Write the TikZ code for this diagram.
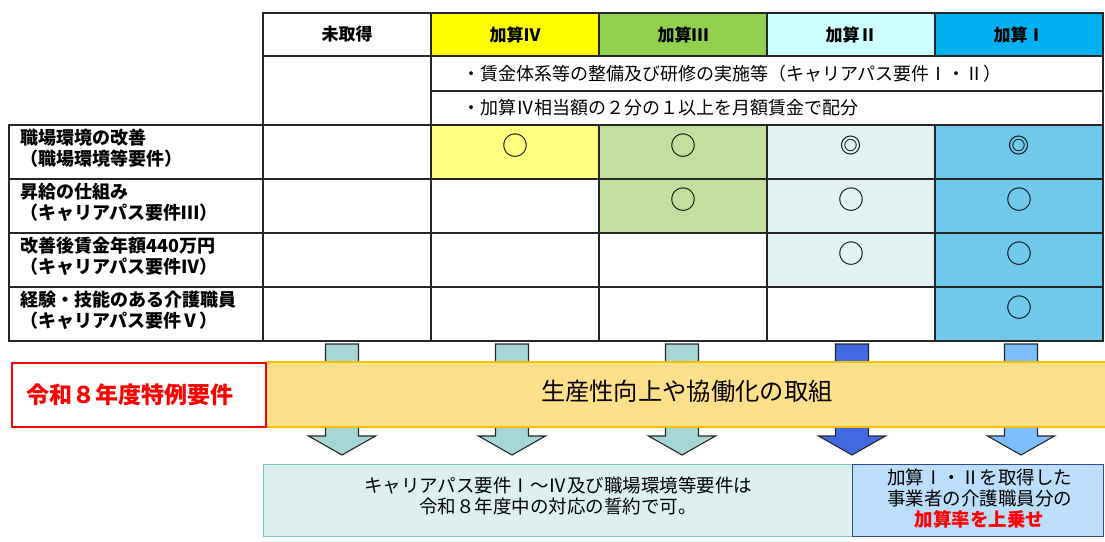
\documentclass[tikz,border=0pt]{standalone}
\usepackage{fontspec}
\setmainfont{Noto Sans CJK JP}
\usepackage{xcolor}
\usetikzlibrary{positioning}

\definecolor{hdrIV}{HTML}{FFFF00}
\definecolor{hdrIII}{HTML}{92D050}
\definecolor{hdrII}{HTML}{CCFFFF}
\definecolor{hdrI}{HTML}{00B0F0}
\definecolor{rowIV}{HTML}{FFFF80}
\definecolor{rowIII}{HTML}{C3DF9F}
\definecolor{rowII}{HTML}{E3F2F2}
\definecolor{rowI}{HTML}{70C8EB}
\definecolor{arrowTeal}{HTML}{A6D6D5}
\definecolor{arrowBlue}{HTML}{4169E1}
\definecolor{arrowSky}{HTML}{7DBEFF}
\definecolor{bandFill}{HTML}{FFE08A}
\definecolor{bandLine}{HTML}{FFC000}
\definecolor{noteFill}{HTML}{DDF0EF}
\definecolor{noteLine}{HTML}{7EC5BF}
\definecolor{plusFill}{HTML}{BDDEFA}
\definecolor{plusLine}{HTML}{2E4C8C}

\begin{document}
\begin{tikzpicture}[x=1pt, y=-1pt,
  cellbox/.style={draw=black!85, line width=1.2pt, inner sep=0pt, outer sep=0pt, minimum width=168pt, minimum height=54pt},
  hdrbox/.style={cellbox, minimum height=43pt, font=\bfseries\fontsize{17}{19}\selectfont},
  rowlabel/.style={anchor=west, align=left, inner sep=0pt, font=\bfseries\fontsize{18}{21}\selectfont},
  captext/.style={anchor=west, inner sep=0pt, font=\fontsize{18}{20}\selectfont},
  circmark/.style={inner sep=0pt, font=\fontsize{26}{26}\selectfont},
  dblmark/.style={inner sep=0pt, font=\bfseries\fontsize{21}{21}\selectfont},
  blockarrow/.style={draw=black!85, line width=1.1pt},
  bodytext/.style={align=center, inner sep=0pt, font=\fontsize{18.5}{21}\selectfont}]

\useasboundingbox (0,0) rectangle (1105,541);

% Header
\node[hdrbox] (hnone) at (347,34.5) {未取得};
\node[hdrbox, fill=hdrIV, right=0pt of hnone] (hIV) {加算Ⅳ};
\node[hdrbox, fill=hdrIII, right=0pt of hIV] (hIII) {加算Ⅲ};
\node[hdrbox, fill=hdrII, right=0pt of hIII] (hII) {加算Ⅱ};
\node[hdrbox, fill=hdrI, right=0pt of hII] (hI) {加算Ⅰ};

% Common requirements
\node[cellbox, minimum height=69pt, below=0pt of hnone] (capnone) {};
\node[cellbox, anchor=north west, minimum width=672pt, minimum height=35pt] (cap1) at (hIV.south west) {};
\node[cellbox, minimum width=672pt, minimum height=34pt, below=0pt of cap1] (cap2) {};
\node[captext] at ([xshift=31pt]cap1.west) {・賃金体系等の整備及び研修の実施等（キャリアパス要件Ⅰ・Ⅱ）};
\node[captext] at ([xshift=31pt]cap2.west) {・加算Ⅳ相当額の２分の１以上を月額賃金で配分};

% Rows
\foreach \r/\y/\fa/\fb/\fc/\fd/\fe in {1/152/white/rowIV/rowIII/rowII/rowI,
    2/206/white/white/rowIII/rowII/rowI,
    3/260/white/white/white/rowII/rowI,
    4/314/white/white/white/white/rowI} {
  \node[cellbox, minimum width=254pt] (lab\r) at (136,\y) {};
  \node[cellbox, fill=\fa] (r\r-1) at (347,\y) {};
  \node[cellbox, fill=\fb] (r\r-2) at (515,\y) {};
  \node[cellbox, fill=\fc] (r\r-3) at (683,\y) {};
  \node[cellbox, fill=\fd] (r\r-4) at (851,\y) {};
  \node[cellbox, fill=\fe] (r\r-5) at (1019,\y) {};
}

% Row labels
\node[rowlabel] at ([xshift=11pt,yshift=4pt]lab1.west) {職場環境の改善\\（職場環境等要件）};
\node[rowlabel] at ([xshift=11pt,yshift=4pt]lab2.west) {昇給の仕組み\\（キャリアパス要件Ⅲ）};
\node[rowlabel] at ([xshift=11pt,yshift=4pt]lab3.west) {改善後賃金年額440万円\\（キャリアパス要件Ⅳ）};
\node[rowlabel] at ([xshift=11pt,yshift=4pt]lab4.west) {経験・技能のある介護職員\\（キャリアパス要件Ⅴ）};

% Marks
\node[circmark] at ([yshift=6pt]r1-2.center) {○};
\node[circmark] at ([yshift=6pt]r1-3.center) {○};
\node[dblmark] at ([yshift=6pt]r1-4.center) {◎};
\node[dblmark] at ([yshift=6pt]r1-5.center) {◎};
\node[circmark] at ([yshift=6pt]r2-3.center) {○};
\node[circmark] at ([yshift=6pt]r2-4.center) {○};
\node[circmark] at ([yshift=6pt]r2-5.center) {○};
\node[circmark] at ([yshift=6pt]r3-4.center) {○};
\node[circmark] at ([yshift=6pt]r3-5.center) {○};
\node[circmark] at ([yshift=6pt]r4-5.center) {○};

% Arrows
\foreach \x/\col in {342/arrowTeal, 512/arrowTeal, 682/arrowTeal, 852/arrowBlue, 1021/arrowSky}
  \draw[blockarrow, fill=\col] (\x-16.5,344) -- (\x+16.5,344) -- (\x+16.5,436) -- (\x+33.5,436)
    -- (\x,455) -- (\x-33.5,436) -- (\x-16.5,436) -- cycle;

% Band
\node[draw=bandLine, fill=bandFill, line width=1.6pt, anchor=north west, minimum width=842pt, minimum height=65pt] (band) at (265,361) {};
\node[inner sep=0pt, font=\fontsize{24.3}{24}\selectfont] at ([yshift=3pt]band.center) {生産性向上や協働化の取組};
\node[draw=red, line width=2pt, anchor=north west, minimum width=254pt, minimum height=64pt] (special) at (11,362) {};
\node[inner sep=0pt, text=red, font=\bfseries\fontsize{23}{23}\selectfont] at ([xshift=-9pt]special.center) {令和８年度特例要件};

% Bottom boxes
\node[draw=noteLine, fill=noteFill, line width=1.2pt, anchor=north west, minimum width=589pt, minimum height=72pt] (note) at (263,464) {};
\node[draw=plusLine, fill=plusFill, line width=1.2pt, anchor=north west, minimum width=251pt, minimum height=72pt] (plus) at (852,464) {};
\node[bodytext] at ([yshift=4.5pt]note.center) {キャリアパス要件Ⅰ～Ⅳ及び職場環境等要件は\\令和８年度中の対応の誓約で可。};
\node[bodytext] at ([xshift=1.5pt,yshift=2.5pt]plus.center) {加算Ⅰ・Ⅱを取得した\\事業者の介護職員分の\\{\color{red}\bfseries 加算率を上乗せ}};
\end{tikzpicture}
\end{document}
